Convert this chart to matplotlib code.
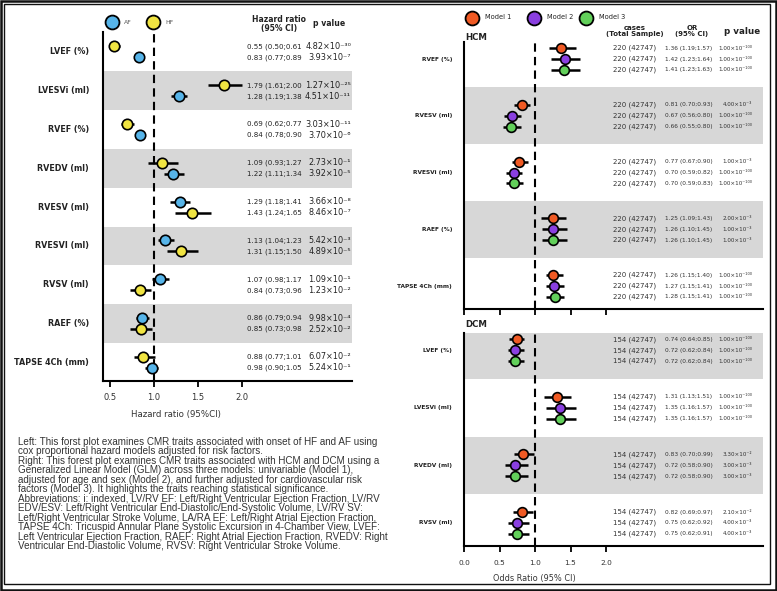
import matplotlib
matplotlib.use('Agg')
import matplotlib.pyplot as plt
from matplotlib.patches import Rectangle

# ---------------- data: left panel (Cox, HF / AF) ----------------
traits_l = ['LVEF (%)', 'LVESVi (ml)', 'RVEF (%)', 'RVEDV (ml)', 'RVESV (ml)',
            'RVESVI (ml)', 'RVSV (ml)', 'RAEF (%)', 'TAPSE 4Ch (mm)']
af_hr = [0.83, 1.28, 0.84, 1.22, 1.29, 1.13, 1.07, 0.86, 0.98]
af_lo = [0.77, 1.19, 0.78, 1.11, 1.18, 1.04, 0.98, 0.79, 0.90]
af_hi = [0.89, 1.38, 0.90, 1.34, 1.41, 1.23, 1.17, 0.94, 1.05]
af_p = [3.93e-7, 4.51e-11, 3.70e-6, 3.92e-5, 3.66e-8, 5.42e-3, 1.09e-1, 9.98e-4, 5.24e-1]
hf_hr = [0.55, 1.79, 0.69, 1.09, 1.43, 1.31, 0.84, 0.85, 0.88]
hf_lo = [0.50, 1.61, 0.62, 0.93, 1.24, 1.15, 0.73, 0.73, 0.77]
hf_hi = [0.61, 2.00, 0.77, 1.27, 1.65, 1.50, 0.96, 0.98, 1.01]
hf_p = [4.82e-30, 1.27e-25, 3.03e-11, 2.73e-1, 8.46e-7, 4.89e-5, 1.23e-2, 2.52e-2, 6.07e-2]
top_series = ['HF', 'HF', 'HF', 'HF', 'AF', 'AF', 'AF', 'AF', 'HF']
left_ticks = [0.5, 1.0, 1.5, 2.0]

# ---------------- data: right panel (GLM, HCM / DCM) ----------------
models = ['Model 1', 'Model 2', 'Model 3']
hcm_traits = ['RVEF (%)', 'RVESV (ml)', 'RVESVi (ml)', 'RAEF (%)', 'TAPSE 4Ch (mm)']
hcm_or = [[1.36, 1.42, 1.41], [0.81, 0.67, 0.66], [0.77, 0.70, 0.70], [1.25, 1.26, 1.26], [1.26, 1.27, 1.28]]
hcm_lo = [[1.19, 1.23, 1.23], [0.70, 0.56, 0.55], [0.67, 0.59, 0.59], [1.09, 1.10, 1.10], [1.15, 1.15, 1.15]]
hcm_hi = [[1.57, 1.64, 1.63], [0.93, 0.80, 0.80], [0.90, 0.82, 0.83], [1.43, 1.45, 1.45], [1.40, 1.41, 1.41]]
hcm_p = [[1e-100, 1e-100, 1e-100], [4e-3, 1e-100, 1e-100], [1e-3, 1e-100, 1e-100],
         [2e-3, 1e-3, 1e-3], [1e-100, 1e-100, 1e-100]]
hcm_cases = 220
dcm_traits = ['LVEF (%)', 'LVESVi (ml)', 'RVEDV (ml)', 'RVSV (ml)']
dcm_or = [[0.74, 0.72, 0.72], [1.31, 1.35, 1.35], [0.83, 0.72, 0.72], [0.82, 0.75, 0.75]]
dcm_lo = [[0.64, 0.62, 0.62], [1.13, 1.16, 1.16], [0.70, 0.58, 0.58], [0.69, 0.62, 0.62]]
dcm_hi = [[0.85, 0.84, 0.84], [1.51, 1.57, 1.57], [0.99, 0.90, 0.90], [0.97, 0.92, 0.91]]
dcm_p = [[1e-100, 1e-100, 1e-100], [1e-100, 1e-100, 1e-100], [3.3e-2, 3e-3, 3e-3], [2.1e-2, 4e-3, 4e-3]]
dcm_cases = 154
total_sample = 42747
right_ticks = [0.0, 0.5, 1.0, 1.5, 2.0]

caption_lines = [
    "Left: This forst plot examines CMR traits associated with onset of HF and AF using",
    "cox proportional hazard models adjusted for risk factors.",
    "Right: This forest plot examines CMR traits associated with HCM and DCM using a",
    "Generalized Linear Model (GLM) across three models: univariable (Model 1),",
    "adjusted for age and sex (Model 2), and further adjusted for cardiovascular risk",
    "factors (Model 3). It highlights the traits reaching statistical significance.",
    "Abbreviations: i: indexed, LV/RV EF: Left/Right Ventricular Ejection Fraction, LV/RV",
    "EDV/ESV: Left/Right Ventricular End-Diastolic/End-Systolic Volume, LV/RV SV:",
    "Left/Right Ventricular Stroke Volume, LA/RA EF: Left/Right Atrial Ejection Fraction,",
    "TAPSE 4Ch: Tricuspid Annular Plane Systolic Excursion in 4-Chamber View, LVEF:",
    "Left Ventricular Ejection Fraction, RAEF: Right Atrial Ejection Fraction, RVEDV: Right",
    "Ventricular End-Diastolic Volume, RVSV: Right Ventricular Stroke Volume.",
]

# ---------------- styling ----------------
C_AF = '#56b4e9'
C_HF = '#f0e442'
C_MODELS = ['#f05a24', '#8a3fe0', '#62d05a']
GRAY = '#d7d7d7'
TXT = '#222222'
DASH = (0, (4, 2.5))

W, H = 777, 591
fig = plt.figure(figsize=(W / 100, H / 100), dpi=100)


def fx(x):
    return x / W


def fy(y):
    return 1 - y / H


def add_ax(x0, x1, y0, y1):
    return fig.add_axes([fx(x0), fy(y1), (x1 - x0) / W, (y1 - y0) / H])


SUP = str.maketrans('-0123456789', '⁻⁰¹²³⁴⁵⁶⁷⁸⁹')


def fmt_p(p):
    m, e = f"{p:.2e}".split('e')
    return f"{m}×10" + str(int(e)).translate(SUP)


def style_axis(ax, ticks, labels=True, labelsize=6, pad=4):
    for s in ['top', 'right']:
        ax.spines[s].set_visible(False)
    ax.spines['left'].set_linewidth(1.5)
    ax.spines['bottom'].set_linewidth(1.5)
    ax.set_yticks([])
    ax.set_xticks(ticks)
    ax.tick_params(axis='x', length=4, width=1.3, labelsize=labelsize, pad=pad,
                   labelcolor='#333333', labelbottom=labels)
    ax.set_xticklabels([f"{t:.1f}" for t in ticks] if labels else [])


# ---------------- left panel ----------------
axL = add_ax(103, 352, 32, 381)
nL = len(traits_l)
axL.set_xlim(0.42, 3.25)
axL.set_ylim(nL - 1 + 0.48, -0.515)
for i in range(nL):
    if i % 2 == 1:
        axL.axhspan(i - 0.5, i + 0.5, color=GRAY, lw=0, zorder=0)
axL.axvline(1.0, color='k', ls=DASH, lw=1.5, zorder=1)
series = [('AF', af_hr, af_lo, af_hi, af_p, C_AF), ('HF', hf_hr, hf_lo, hf_hi, hf_p, C_HF)]
offL = 0.142
trL = axL.get_yaxis_transform()
for i in range(nL):
    axL.text(-0.056, i, traits_l[i], transform=trL, ha='right', va='center',
             fontsize=5.8, fontweight='bold', color=TXT)
    for name, hr, lo, hi, p, col in series:
        y = i - offL if top_series[i] == name else i + offL
        axL.plot([lo[i], hi[i]], [y, y], color='k', lw=1.8, solid_capstyle='butt', zorder=2)
        axL.plot(hr[i], y, 'o', ms=7.5, mfc=col, mec='k', mew=1.2, zorder=3)
        axL.text(0.578, y, f"{hr[i]:.2f} ({lo[i]:.2f};{hi[i]:.2f}", transform=trL,
                 ha='left', va='center', fontsize=5.1, color=TXT)
        axL.text(0.996, y, fmt_p(p[i]), transform=trL, ha='right', va='center',
                 fontsize=5.9, color=TXT)
style_axis(axL, left_ticks, labelsize=6, pad=5)
fig.text(fx(176), fy(415), 'Hazard ratio (95%CI)', ha='center', va='center', fontsize=6.2, color='#333333')

# left legend + headers
for x, name, col in [(112, 'AF', C_AF), (153, 'HF', C_HF)]:
    fig.lines.append(plt.Line2D([fx(x)], [fy(22)], marker='o', ms=10, mfc=col, mec='k',
                                mew=1.3, transform=fig.transFigure, ls='none'))
    fig.text(fx(x + 12), fy(22), name, ha='left', va='center', fontsize=4.4, color='#555555')
fig.text(fx(279), fy(24), 'Hazard ratio\n(95% CI)', ha='center', va='center', fontsize=5.5,
         fontweight='bold', color=TXT, linespacing=1.0)
fig.text(fx(329), fy(24), 'p value', ha='center', va='center', fontsize=5.6,
         fontweight='bold', color=TXT)


# ---------------- right panels ----------------
def draw_right(ax, traits, ors, los, his, ps, cases, ylim_bottom, shade_odd):
    n = len(traits)
    ax.set_xlim(0.0, 4.21)
    ax.set_ylim(n - 1 + ylim_bottom, -0.3)
    for i in range(n):
        if (i % 2 == 1) == shade_odd:
            ax.axhspan(i - 0.5, i + 0.5, color=GRAY, lw=0, zorder=0)
    ax.axvline(1.0, color='k', ls=DASH, lw=1.5, zorder=1)
    tr = ax.get_yaxis_transform()
    off = 0.19
    for i in range(n):
        ax.text(-0.04, i, traits[i], transform=tr, ha='right', va='center',
                fontsize=4.2, fontweight='bold', color=TXT)
        for k in range(3):
            y = i + (k - 1) * off
            ax.plot([los[i][k], his[i][k]], [y, y], color='k', lw=1.8,
                    solid_capstyle='butt', zorder=2)
            ax.plot(ors[i][k], y, 'o', ms=7, mfc=C_MODELS[k], mec='k', mew=1.2, zorder=3)
            ax.text(0.498, y, f"{cases} ({total_sample})", transform=tr, ha='left',
                    va='center', fontsize=5.0, color='#333333')
            ax.text(0.672, y, f"{ors[i][k]:.2f} ({los[i][k]:.2f};{his[i][k]:.2f})",
                    transform=tr, ha='left', va='center', fontsize=4.2, color='#333333')
            ax.text(0.963, y, fmt_p(ps[i][k]), transform=tr, ha='right', va='center',
                    fontsize=4.1, color='#333333')


axH = add_ax(464, 763, 42, 309)
draw_right(axH, hcm_traits, hcm_or, hcm_lo, hcm_hi, hcm_p, hcm_cases, 0.405, True)
style_axis(axH, right_ticks, labels=False)

axD = add_ax(464, 763, 333, 546)
draw_right(axD, dcm_traits, dcm_or, dcm_lo, dcm_hi, dcm_p, dcm_cases, 0.4, False)
style_axis(axD, right_ticks, labels=True, labelsize=5.3, pad=6)
fig.text(fx(534), fy(578), 'Odds Ratio (95% CI)', ha='center', va='center', fontsize=5.9, color='#333333')

fig.text(fx(465), fy(38), 'HCM', ha='left', va='center', fontsize=6.2, fontweight='bold', color=TXT)
fig.text(fx(465), fy(325), 'DCM', ha='left', va='center', fontsize=6.2, fontweight='bold', color=TXT)

# right legend + headers
for x, name, col in zip([472, 534, 586], models, C_MODELS):
    fig.lines.append(plt.Line2D([fx(x)], [fy(18)], marker='o', ms=10, mfc=col, mec='k',
                                mew=1.3, transform=fig.transFigure, ls='none'))
    fig.text(fx(x + 13), fy(17), name, ha='left', va='center', fontsize=4.8, color=TXT)
fig.text(fx(635), fy(31), 'cases\n(Total Sample)', ha='center', va='center', fontsize=5.0,
         fontweight='bold', color=TXT, linespacing=0.95)
fig.text(fx(692), fy(31), 'OR\n(95% CI)', ha='center', va='center', fontsize=5.0,
         fontweight='bold', color=TXT, linespacing=0.95)
fig.text(fx(742), fy(32), 'p value', ha='center', va='center', fontsize=6.3,
         fontweight='bold', color=TXT)

# ---------------- caption ----------------
for k, line in enumerate(caption_lines):
    fig.text(fx(18), fy(442 + 9.45 * k), line, ha='left', va='center', fontsize=7.1,
             family='Liberation Sans', color='#333333')

# ---------------- frame ----------------
fig.add_artist(Rectangle((fx(1), fy(590)), 775 / W, 589 / H, transform=fig.transFigure,
                         fill=False, ec='#111111', lw=1.8))
fig.add_artist(Rectangle((fx(4), fy(584)), 766 / W, 580 / H, transform=fig.transFigure,
                         fill=False, ec='#111111', lw=1.0))

fig.savefig('out.png', dpi=100)
